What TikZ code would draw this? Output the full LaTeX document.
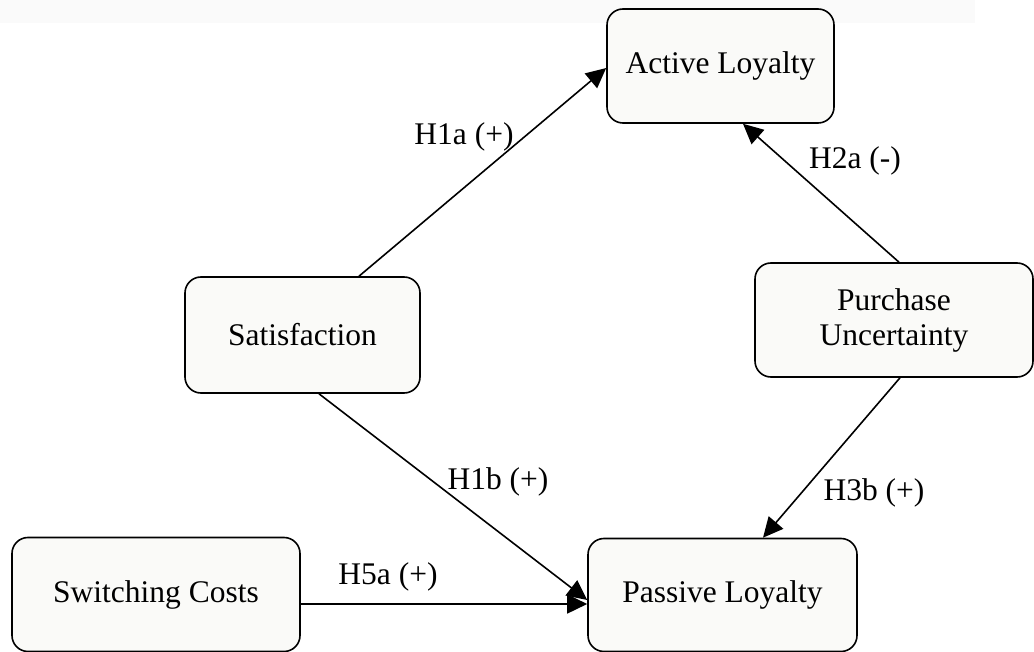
\documentclass[tikz,border=0pt]{standalone}
\usepackage{fontspec}
\setmainfont{Liberation Serif}
\usetikzlibrary{arrows.meta}
\definecolor{band}{RGB}{250,250,250}
\definecolor{boxfill}{RGB}{250,250,248}
\tikzset{
  box/.style={draw=black, fill=boxfill, line width=1.6pt, rounded corners=16pt,
    align=center, inner sep=0pt, font=\fontsize{31.5pt}{35pt}\selectfont},
  arr/.style={line width=1.6pt, -{Triangle[length=20pt,width=19pt]}},
  lbl/.style={inner sep=0pt, font=\fontsize{31.5pt}{35pt}\selectfont}
}
\begin{document}
\begin{tikzpicture}[x=1pt,y=-1pt]
\useasboundingbox (0,0) rectangle (1034,652);
\fill[band] (0,0) rectangle (975,23);
\node[box, minimum width=227pt, minimum height=114pt] (al) at (720.5,66) {Active Loyalty};
\node[box, minimum width=235pt, minimum height=116pt] (sat) at (302.5,335) {Satisfaction};
\node[box, minimum width=278pt, minimum height=114pt] (pu) at (894,320) {Purchase\\Uncertainty};
\node[box, minimum width=288pt, minimum height=114pt] (sc) at (156,594.5) {Switching Costs};
\node[box, minimum width=269pt, minimum height=113pt] (pl) at (722.5,595) {Passive Loyalty};
\draw[arr] ([xshift=56.5pt]sat.north) -- ([yshift=-2pt]al.west);
\draw[arr] ([xshift=5pt]pu.north) -- ([xshift=22.5pt]al.south);
\draw[arr] ([xshift=16.5pt]sat.south) -- ([yshift=-5pt]pl.west);
\draw[arr] ([yshift=-9.5pt]sc.east) -- ([yshift=-9pt]pl.west);
\draw[arr] ([xshift=6pt]pu.south) -- ([xshift=40.5pt]pl.north);
\node[lbl] (l1) at (464,137) {H1a (+)};
\node[lbl] (l2) at (855,161) {H2a (-)};
\node[lbl] (l3) at (498,482) {H1b (+)};
\node[lbl] (l4) at (874,493) {H3b (+)};
\node[lbl] (l5) at (388,577) {H5a (+)};
\end{tikzpicture}
\end{document}
